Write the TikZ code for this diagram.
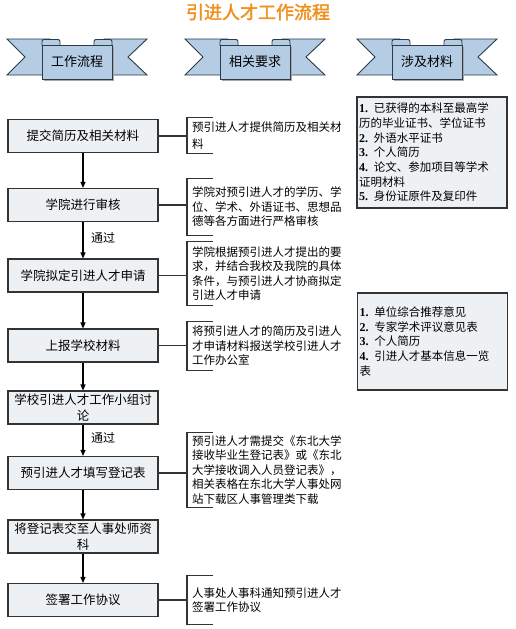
\documentclass[tikz,border=0pt]{standalone}
\usepackage{fontspec}
\setmainfont{Liberation Serif}
\newfontfamily\cjk[AutoFakeBold=2]{Noto Sans CJK SC}
\usetikzlibrary{arrows.meta}
\definecolor{titleorange}{HTML}{F0901E}
\definecolor{boxfill}{HTML}{EEF1F4}
\definecolor{boxline}{HTML}{333333}
\definecolor{bannerfill}{HTML}{B4CCE4}
\definecolor{bannerline}{HTML}{2E3A46}
\newcommand\nb[1]{{\rmfamily\bfseries\fontsize{12}{14.7}\selectfont #1}}
\newcommand\bannerdraw[1]{%
  \begin{scope}[shift={(#1,0)}]
    \fill[bannerfill,draw=bannerline,line width=0.9pt] (-70,39) -- (-27,39) -- (-27,75) -- (-70,75) -- (-52,57) -- cycle;
    \fill[bannerfill,draw=bannerline,line width=0.9pt] (70,39) -- (27,39) -- (27,75) -- (70,75) -- (51,57) -- cycle;
    \filldraw[fill=bannerfill,draw=bannerline,line width=0.9pt,rounded corners=2pt] (-35,39.5) rectangle (-17,47);
    \filldraw[fill=bannerfill,draw=bannerline,line width=0.9pt,rounded corners=2pt] (17,39.5) rectangle (35,47);
    \fill[black!35] (-33.5,46.5) rectangle (36.5,80.5);
    \filldraw[fill=bannerfill,draw=bannerline,line width=0.9pt] (-35,45) rectangle (35,79);
  \end{scope}}
\begin{document}
\begin{tikzpicture}[x=1pt,y=-1pt,
  flow/.style={draw=boxline, fill=boxfill, line width=1.1pt, minimum width=150pt, minimum height=33pt, inner sep=2pt, align=center, font=\cjk\fontsize{12.5}{15.5}\selectfont},
  req/.style={anchor=west, inner xsep=5pt, inner ysep=0pt, align=left, text width=158pt, font=\cjk\fontsize{11.5}{14.5}\selectfont},
  mat/.style={draw=boxline, fill=boxfill, line width=1.1pt, minimum width=150pt, inner xsep=2pt, align=left, text width=146pt, font=\cjk\fontsize{11.5}{14.7}\selectfont},
  head/.style={font=\cjk\fontsize{13}{15}\selectfont},
  pass/.style={font=\cjk\fontsize{12}{14}\selectfont},
  arr/.style={-{Triangle[length=6pt,width=5pt]}, line width=1.1pt, black},
  brk/.style={line width=1.1pt, boxline},
]
\useasboundingbox (0,0) rectangle (515,629);
\fill[white] (0,0) rectangle (515,629);

\node[font=\cjk\bfseries\fontsize{18}{20}\selectfont, text=titleorange] (title) at (258,12) {引进人才工作流程};

\bannerdraw{77}
\bannerdraw{255}
\bannerdraw{427}
\node[head] (h1) at (77,62) {工作流程};
\node[head] (h2) at (255,62) {相关要求};
\node[head] (h3) at (427,62) {涉及材料};

% flow boxes
\node[flow] (b1) at (83,136) {提交简历及相关材料};
\node[flow] (b2) at (83,205) {学院进行审核};
\node[flow] (b3) at (83,275.5) {学院拟定引进人才申请};
\node[flow] (b4) at (83,345.5) {上报学校材料};
\node[flow] (b5) at (83,407.5) {学校引进人才工作小组讨\\论};
\node[flow] (b6) at (83,473) {预引进人才填写登记表};
\node[flow] (b7) at (83,536.5) {将登记表交至人事处师资\\科};
\node[flow] (b8) at (83,600) {签署工作协议};

\draw[arr] (b1) -- (b2);
\draw[arr] (b2) -- (b3);
\draw[arr] (b3) -- (b4);
\draw[arr] (b4) -- (b5);
\draw[arr] (b5) -- (b6);
\draw[arr] (b6) -- (b7);
\draw[arr] (b7) -- (b8);
\node[pass] (p1) at (103,238) {通过};
\node[pass] (p2) at (103,438) {通过};

% requirements
\node[req, minimum height=35pt, font=\cjk\fontsize{11.5}{16.5}\selectfont] (r1) at (187,135.5) {预引进人才提供简历及相关材\\料};
\node[req, minimum height=56pt] (r2) at (187,207) {学院对预引进人才的学历、学\\位、学术、外语证书、思想品\\德等各方面进行严格审核};
\node[req, minimum height=63pt] (r3) at (187,273.5) {学院根据预引进人才提出的要\\求，并结合我校及我院的具体\\条件，与预引进人才协商拟定\\引进人才申请};
\node[req, minimum height=48pt] (r4) at (187,346) {将预引进人才的简历及引进人\\才申请材料报送学校引进人才\\工作办公室};
\node[req, minimum height=74pt] (r5) at (187,470) {预引进人才需提交《东北大学\\接收毕业生登记表》或《东北\\大学接收调入人员登记表》，\\相关表格在东北大学人事处网\\站下载区人事管理类下载};
\node[req, minimum height=48pt] (r6) at (187,600) {人事处人事科通知预引进人才\\签署工作协议};

\foreach \b/\r in {b1/r1,b2/r2,b3/r3,b4/r4,b6/r5,b8/r6}{
  \draw[brk] (\b.east) -- (\b.east -| \r.west);
  \draw[brk] ([xshift=26pt]\r.north west) -- (\r.north west) -- (\r.south west) -- ([xshift=26pt]\r.south west);
}

% materials
\node[mat, minimum height=111pt] (m1) at (432,152.5) {\nb{1.} 已获得的本科至最高学\\历的毕业证书、学位证书\\\nb{2.} 外语水平证书\\\nb{3.} 个人简历\\\nb{4.} 论文、参加项目等学术\\证明材料\\\nb{5.} 身份证原件及复印件};
\node[mat, minimum height=97pt] (m2) at (432.5,341.5) {\nb{1.} 单位综合推荐意见\\\nb{2.} 专家学术评议意见表\\\nb{3.} 个人简历\\\nb{4.} 引进人才基本信息一览\\表};
\end{tikzpicture}
\end{document}
